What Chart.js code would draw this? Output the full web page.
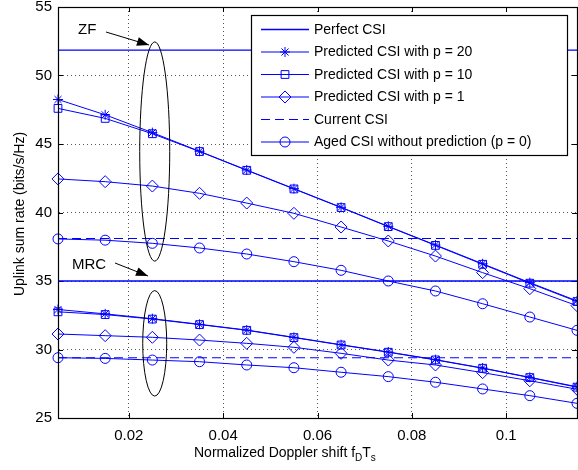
<!DOCTYPE html>
<html>
<head>
<meta charset="utf-8">
<script src="https://cdn.jsdelivr.net/npm/chart.js@4/dist/chart.umd.min.js"></script>
<style>
html,body{margin:0;padding:0;background:#fff;overflow:hidden;}
#wrap{width:578px;height:470px;position:relative;}
</style>
</head>
<body>
<div id="wrap"><canvas id="c" width="578" height="470"></canvas></div>
<script>
// ---- data ----
const dopplerShift = [0.005,0.015,0.025,0.035,0.045,0.055,0.065,0.075,0.085,0.095,0.105,0.115];
const xTicks = [0.02,0.04,0.06,0.08,0.1];
const yTicks = [25,30,35,40,45,50,55];

const zfPerfect = 51.85;
const zfCurrent = 38.1;
const mrcPerfect = 35.0;
const mrcCurrent = 29.4;

const zfP20  = [48.25,47.13,45.83,44.47,43.1,41.74,40.38,38.99,37.63,36.26,34.88,33.55];
const zfP10  = [47.6,46.87,45.75,44.45,43.08,41.72,40.36,38.97,37.6,36.22,34.84,33.5];
const zfP1   = [42.45,42.25,41.93,41.4,40.69,39.94,38.94,37.92,36.82,35.61,34.44,33.2];
const zfAged = [38.07,37.98,37.75,37.41,36.97,36.41,35.78,35.0,34.27,33.34,32.37,31.4];

const mrcP20  = [32.92,32.6,32.25,31.84,31.42,30.89,30.35,29.82,29.26,28.65,27.97,27.28];
const mrcP10  = [32.75,32.55,32.22,31.82,31.4,30.87,30.33,29.8,29.24,28.63,27.95,27.25];
const mrcP1   = [31.13,31.01,30.89,30.69,30.45,30.16,29.72,29.23,28.87,28.31,27.72,27.1];
const mrcAged = [29.4,29.35,29.23,29.11,28.87,28.67,28.34,28.02,27.61,27.12,26.63,26.07];

const legendLabels = ['Perfect CSI','Predicted CSI with p = 20','Predicted CSI with p = 10','Predicted CSI with p = 1','Current CSI','Aged CSI without prediction (p = 0)'];

// ---- build datasets ----
const BLUE = '#0000ff';
const xMin = 0.005, xMax = 0.115;
const pts = arr => arr.map((v,i)=>({x:dopplerShift[i], y:v}));
const flat = v => [{x:xMin,y:v},{x:xMax,y:v}];

const styles = {
  perfect:{pointStyle:false, borderWidth:1.3, borderDash:[]},
  p20:{pointStyle:'star', pointRadius:5, borderWidth:1, borderDash:[]},
  p10:{pointStyle:'rect', pointRadius:5.5, borderWidth:1, borderDash:[]},
  p1:{pointStyle:'rectRot', pointRadius:6, borderWidth:1, borderDash:[]},
  current:{pointStyle:false, borderWidth:1.1, borderDash:[9,5]},
  aged:{pointStyle:'circle', pointRadius:5, borderWidth:1, borderDash:[]}
};
function ds(label, data, st){
  return Object.assign({
    label, data, showLine:true, borderColor:BLUE, backgroundColor:'rgba(0,0,0,0)',
    pointBorderColor:BLUE, pointBackgroundColor:'rgba(0,0,0,0)', pointBorderWidth:1,
    pointHoverRadius:0, tension:0, fill:false, clip:false
  }, st, {pointRadius: st.pointStyle ? st.pointRadius : 0});
}
const datasets = [
  ds(legendLabels[0], flat(zfPerfect), styles.perfect),
  ds(legendLabels[1], pts(zfP20), styles.p20),
  ds(legendLabels[2], pts(zfP10), styles.p10),
  ds(legendLabels[3], pts(zfP1), styles.p1),
  ds(legendLabels[4], flat(zfCurrent), styles.current),
  ds(legendLabels[5], pts(zfAged), styles.aged),
  ds(legendLabels[0], flat(mrcPerfect), styles.perfect),
  ds(legendLabels[1], pts(mrcP20), styles.p20),
  ds(legendLabels[2], pts(mrcP10), styles.p10),
  ds(legendLabels[3], pts(mrcP1), styles.p1),
  ds(legendLabels[4], flat(mrcCurrent), styles.current),
  ds(legendLabels[5], pts(mrcAged), styles.aged)
];

const FONT = '"Liberation Sans", Arial, Helvetica, sans-serif';

// ---- plugins ----
const framePlugin = {
  id:'frame',
  beforeDatasetsDraw(chart){
    const {ctx, chartArea:a} = chart;
    ctx.save();
    ctx.strokeStyle = '#000'; ctx.lineWidth = 1;
    const xs = chart.scales.x, ys = chart.scales.y;
    ctx.beginPath();
    xTicks.forEach(t=>{const px=Math.round(xs.getPixelForValue(t))+0.5;
      ctx.moveTo(px,a.bottom); ctx.lineTo(px,a.bottom-5);
      ctx.moveTo(px,a.top); ctx.lineTo(px,a.top+5);});
    yTicks.forEach(t=>{const py=Math.round(ys.getPixelForValue(t))+0.5;
      ctx.moveTo(a.left,py); ctx.lineTo(a.left+5,py);
      ctx.moveTo(a.right,py); ctx.lineTo(a.right-5,py);});
    ctx.stroke();
    ctx.restore();
  },
  afterDraw(chart){
    const {ctx, chartArea:a} = chart;
    ctx.save();
    ctx.setLineDash([]);
    ctx.strokeStyle='#000'; ctx.lineWidth=1.2;
    ctx.strokeRect(Math.round(a.left)+0.5, Math.round(a.top)+0.5, Math.round(a.right-a.left), Math.round(a.bottom-a.top));
    // axis titles
    ctx.fillStyle='#000';
    ctx.font = '14px '+FONT;
    ctx.textBaseline='alphabetic'; ctx.textAlign='left';
    let x = 194, y = 457;
    const t1 = 'Normalized Doppler shift f';
    ctx.fillText(t1, x, y); x += ctx.measureText(t1).width;
    ctx.font = '10px '+FONT; ctx.fillText('D', x, y+4); x += ctx.measureText('D').width;
    ctx.font = '14px '+FONT; ctx.fillText('T', x, y); x += ctx.measureText('T').width;
    ctx.font = '10px '+FONT; ctx.fillText('s', x, y+4);
    ctx.save();
    ctx.translate(24, 214); ctx.rotate(-Math.PI/2);
    ctx.font='14px '+FONT; ctx.textAlign='center';
    ctx.fillText('Uplink sum rate (bits/s/Hz)', 0, 0);
    ctx.restore();

    // annotations: ellipses + arrows
    const xs = chart.scales.x, ys = chart.scales.y;
    ctx.strokeStyle='#000'; ctx.lineWidth=1;
    function ellipse(cx, yTop, yBot, rx){
      const px = xs.getPixelForValue(cx);
      const t = ys.getPixelForValue(yTop), b = ys.getPixelForValue(yBot);
      ctx.beginPath(); ctx.ellipse(px, (t+b)/2, rx, (b-t)/2, 0, 0, Math.PI*2); ctx.stroke();
    }
    ellipse(0.0255, 52.45, 36.45, 15);
    ellipse(0.0255, 34.3, 26.6, 12);
    function arrow(x0,y0,x1,y1){
      ctx.beginPath(); ctx.moveTo(x0,y0); ctx.lineTo(x1,y1); ctx.stroke();
      const ang = Math.atan2(y1-y0, x1-x0), L=12, W=4.5;
      ctx.beginPath();
      ctx.moveTo(x1,y1);
      ctx.lineTo(x1-L*Math.cos(ang)+W*Math.sin(ang), y1-L*Math.sin(ang)-W*Math.cos(ang));
      ctx.lineTo(x1-L*Math.cos(ang)-W*Math.sin(ang), y1-L*Math.sin(ang)+W*Math.cos(ang));
      ctx.closePath(); ctx.fillStyle='#000'; ctx.fill();
    }
    arrow(106,32,149,45);
    arrow(115,263,148,276);
    ctx.font='15px '+FONT; ctx.textAlign='left'; ctx.textBaseline='middle'; ctx.fillStyle='#000';
    ctx.fillText('ZF', 78, 30);
    ctx.fillText('MRC', 72, 265);

    // legend
    const L0 = 251, T0 = 15, R0 = 567, B0 = 155;
    ctx.fillStyle='#fff'; ctx.fillRect(L0,T0,R0-L0,B0-T0);
    ctx.strokeStyle='#000'; ctx.lineWidth=1.2;
    ctx.strokeRect(L0+0.5,T0+0.5,R0-L0,B0-T0);
    const rows = [29.5,52,74.5,97,119.5,142];
    for(let i=0;i<6;i++){
      const d = chart.data.datasets[i];
      const yy = rows[i];
      ctx.save();
      ctx.strokeStyle=BLUE; ctx.lineWidth=d.borderWidth;
      ctx.setLineDash(d.borderDash||[]);
      ctx.beginPath(); ctx.moveTo(261,yy); ctx.lineTo(309,yy); ctx.stroke();
      ctx.setLineDash([]);
      if(d.pointStyle){
        ctx.lineWidth=1;
        ctx.strokeStyle=BLUE;
        ctx.fillStyle='rgba(0,0,0,0)';
        Chart.helpers.drawPoint(ctx,{pointStyle:d.pointStyle, radius:d.pointRadius, rotation:0, borderWidth:1}, 285, yy);
      }
      ctx.restore();
      ctx.fillStyle='#000'; ctx.font='14px '+FONT; ctx.textAlign='left'; ctx.textBaseline='middle';
      ctx.fillText(d.label, 314, yy+0.5);
    }
    ctx.restore();
  }
};

new Chart(document.getElementById('c'), {
  type:'scatter',
  data:{datasets},
  options:{
    responsive:false, animation:false, devicePixelRatio:1,
    layout:{autoPadding:false, padding:{top:7,left:0,right:1,bottom:0}},
    plugins:{legend:{display:false}, tooltip:{enabled:false}},
    elements:{line:{borderCapStyle:'butt'}},
    scales:{
      x:{type:'linear', min:xMin, max:xMax,
        afterBuildTicks(s){ s.ticks = xTicks.map(v=>({value:v})); },
        afterFit(s){ s.height = 52; s.paddingLeft = 0; s.paddingRight = 0; },
        border:{display:true,color:'#000',width:1, dash:[1,3]},
        grid:{color:'rgba(0,0,0,0.65)', lineWidth:1, drawTicks:false},
        ticks:{color:'#000', font:{family:FONT,size:15}, padding:9, maxRotation:0,
          callback:(v)=>String(v)}
      },
      y:{type:'linear', min:25, max:55,
        afterBuildTicks(s){ s.ticks = yTicks.map(v=>({value:v})); },
        afterFit(s){ s.width = 58; s.paddingTop = 0; s.paddingBottom = 0; },
        border:{display:true,color:'#000',width:1, dash:[1,3]},
        grid:{color:'rgba(0,0,0,0.65)', lineWidth:1, drawTicks:false},
        ticks:{color:'#000', font:{family:FONT,size:15}, padding:6, callback:(v)=>String(v)}
      }
    }
  },
  plugins:[framePlugin]
});
</script>
</body>
</html>
